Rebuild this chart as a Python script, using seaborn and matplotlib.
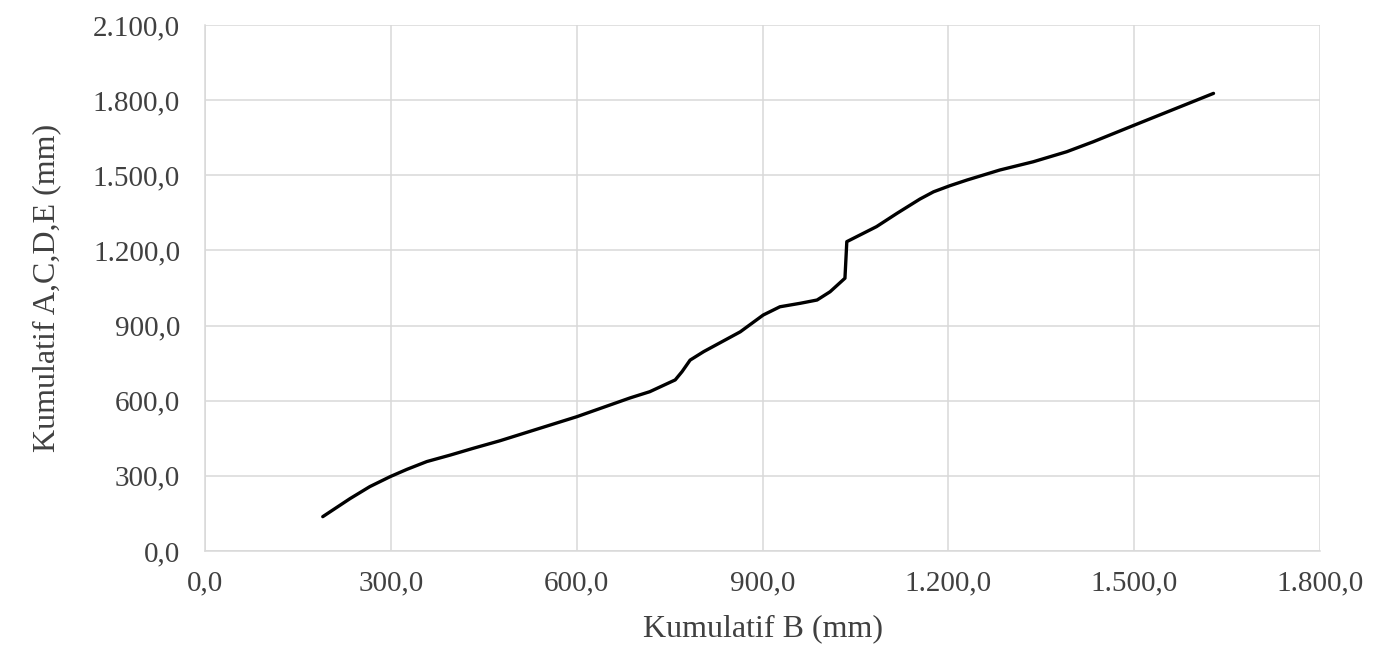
import numpy as np
import pandas as pd
import matplotlib
matplotlib.use('Agg')
import matplotlib.pyplot as plt
from matplotlib.ticker import FuncFormatter, MultipleLocator
import seaborn as sns

# Cumulative values
kumulatif_b = [190, 234, 266, 299, 326, 358, 396, 433, 476, 600, 686, 718, 759, 770,
               783, 805, 864, 901, 928, 961, 988, 1009, 1033, 1036, 1084, 1117, 1154,
               1176, 1202, 1230, 1283, 1337, 1391, 1434, 1501, 1628]
kumulatif_acde = [137, 209, 257, 297, 326, 357, 383, 410, 440, 536, 611, 636, 683, 716,
                  762, 796, 875, 942, 975, 989, 1002, 1035, 1089, 1235, 1295, 1348, 1405,
                  1434, 1458, 1481, 1521, 1554, 1594, 1634, 1701, 1827]

df = pd.DataFrame({'B': kumulatif_b, 'ACDE': kumulatif_acde})

sns.set_style('white')
plt.rcParams['font.family'] = ['Liberation Serif', 'DejaVu Serif']

fig = plt.figure(figsize=(13.96, 6.46), dpi=100)
ax = fig.add_axes([0.1469, 0.1471, 0.7987, 0.8142])

sns.lineplot(data=df, x='B', y='ACDE', sort=False, estimator=None,
             color='black', linewidth=2.4, ax=ax)

ax.set_xlim(0, 1800)
ax.set_ylim(0, 2100)
ax.xaxis.set_major_locator(MultipleLocator(300))
ax.yaxis.set_major_locator(MultipleLocator(300))

def fmt(v, pos):
    s = f'{v:,.1f}'
    return s.replace(',', 'X').replace('.', ',').replace('X', '.')

ax.xaxis.set_major_formatter(FuncFormatter(fmt))
ax.yaxis.set_major_formatter(FuncFormatter(fmt))

ax.grid(True, color='#d9d9d9', linewidth=1.1)
for side in ['top', 'right']:
    ax.spines[side].set_visible(False)
for side in ['left', 'bottom']:
    ax.spines[side].set_color('#d9d9d9')
    ax.spines[side].set_linewidth(1.1)

ax.tick_params(axis='both', length=0, labelsize=21, labelcolor='#404040')
ax.tick_params(axis='x', pad=14)
ax.tick_params(axis='y', pad=18)
ax.set_xlabel('Kumulatif B (mm)', fontsize=23, color='#404040')
ax.set_ylabel('Kumulatif A,C,D,E (mm)', fontsize=23, color='#404040')
ax.xaxis.set_label_coords(0.5, -0.148)
ax.yaxis.set_label_coords(-0.142, 0.5)
ax.xaxis.label.set_va('center')
ax.yaxis.label.set_va('center')

fig.savefig('out.png', dpi=100)
